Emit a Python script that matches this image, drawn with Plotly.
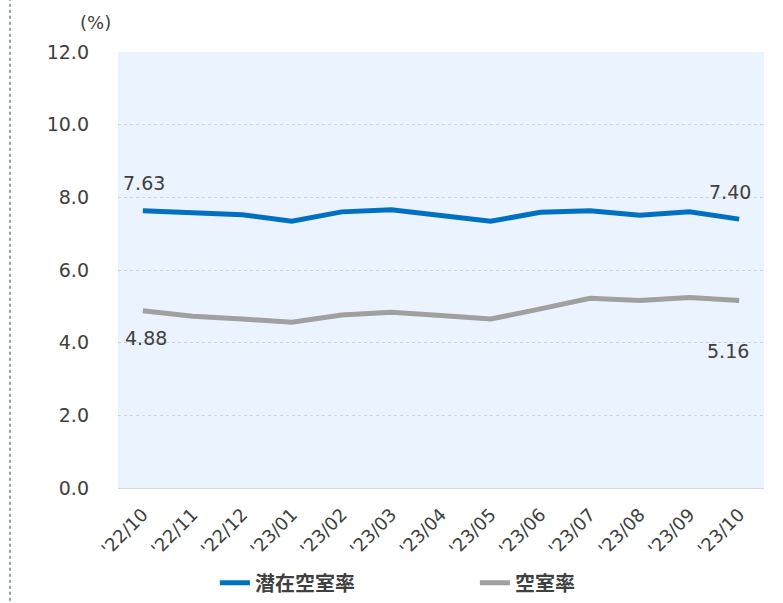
import plotly.graph_objects as go

# Monthly vacancy rates (%)
months = ["'22/10", "'22/11", "'22/12", "'23/01", "'23/02", "'23/03", "'23/04",
          "'23/05", "'23/06", "'23/07", "'23/08", "'23/09", "'23/10"]
latent_vacancy = [7.63, 7.59, 7.52, 7.34, 7.60, 7.66, 7.49, 7.34, 7.59, 7.63, 7.51, 7.60, 7.40]
vacancy = [4.88, 4.73, 4.65, 4.56, 4.76, 4.84, 4.75, 4.65, 4.93, 5.22, 5.16, 5.24, 5.16]
y_ticks = [0, 2, 4, 6, 8, 10, 12]

BLUE = "#0070C0"
GRAY = "#A0A0A0"
TEXT = "#404040"
FONT = "DejaVu Sans"

fig = go.Figure()
fig.add_trace(go.Scatter(x=months, y=latent_vacancy, mode="lines", name="潜在空室率",
                         line=dict(color=BLUE, width=5)))
fig.add_trace(go.Scatter(x=months, y=vacancy, mode="lines", name="空室率",
                         line=dict(color=GRAY, width=5)))

# End-point value labels (x shift, y offset below the point in px)
labels = [
    (months[0], latent_vacancy[0], f"{latent_vacancy[0]:.2f}", 1, -28),
    (months[-1], latent_vacancy[-1], f"{latent_vacancy[-1]:.2f}", -9, -27),
    (months[0], vacancy[0], f"{vacancy[0]:.2f}", 3, 27),
    (months[-1], vacancy[-1], f"{vacancy[-1]:.2f}", -11, 50),
]
for x, y, t, ax, ay in labels:
    fig.add_annotation(x=x, y=y, text=t, showarrow=False, xshift=ax, yshift=-ay,
                       font=dict(family=FONT, size=19, color=TEXT))

# Unit label
fig.add_annotation(xref="paper", yref="paper", x=(95 - 118) / 646, y=1.04, text="(%)",
                   showarrow=False, xanchor="center", yanchor="bottom",
                   font=dict(family=FONT, size=18, color=TEXT))

# Dotted frame line on the left
fig.add_shape(type="line", xref="paper", yref="paper",
              x0=(10 - 118) / 646, x1=(10 - 118) / 646, y0=-0.3, y1=1.2,
              line=dict(color="#25408F", width=1, dash="dot"))

fig.update_layout(
    width=783, height=603,
    margin=dict(l=118, r=19, t=52, b=115, autoexpand=False),
    paper_bgcolor="white",
    plot_bgcolor="#EAF3FE",
    font=dict(family=FONT, color=TEXT),
    showlegend=True,
    legend=dict(orientation="h", x=0.15, y=-0.262, xanchor="left", yanchor="bottom",
                font=dict(family="Noto Sans CJK JP", size=20, color=TEXT, weight="bold"),
                entrywidth=215, bgcolor="rgba(0,0,0,0)"),
    xaxis=dict(type="category", tickangle=-45, showgrid=False, automargin=False,
               showline=True, linecolor="#D9D9D9", linewidth=1,
               ticks="", ticklabelstandoff=8,
               tickfont=dict(family=FONT, size=18, color=TEXT),
               range=[-0.5, len(months) - 0.5]),
    yaxis=dict(range=[0, 12], tickvals=y_ticks, automargin=False,
               ticktext=[f"{v:.1f}" for v in y_ticks],
               showgrid=True, gridcolor="#CDD3DA", griddash="dot", gridwidth=1,
               zeroline=False, ticks="", ticklabelstandoff=28,
               tickfont=dict(family=FONT, size=19, color=TEXT)),
)

fig.write_html("out.html")
